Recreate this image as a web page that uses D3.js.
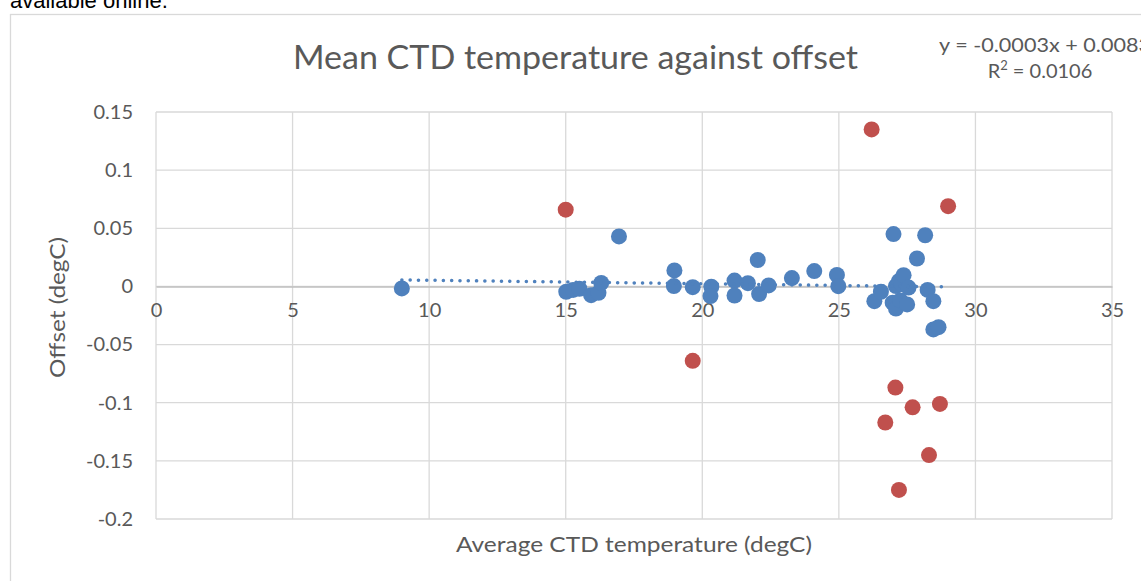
<!DOCTYPE html>
<meta charset="utf-8">
<style>
  body { margin: 0; background: #fff; }
  svg { display: block; }
  .tick text { font-family: Lato, "Open Sans", sans-serif; font-size: 20px; fill: #595959; }
  .grid line { stroke: #d9d9d9; stroke-width: 1.3; }
  .lbl { font-family: Lato, "Open Sans", sans-serif; fill: #595959; }
</style>
<svg width="1141" height="581"></svg>
<script src="https://d3js.org/d3.v7.min.js"></script>
<script>
// blue series: mean CTD temperature vs offset
var blueX = [9.0, 15.02, 15.27, 15.5, 15.93, 16.2, 16.3, 16.95, 18.98, 18.96, 19.65, 20.33, 20.3,
  21.18, 21.18, 21.67, 22.03, 22.08, 22.43, 23.28, 24.1, 24.93, 24.98,
  26.3, 26.54, 26.97, 27.0, 27.09, 27.09, 27.2, 27.25, 27.3, 27.37, 27.5, 27.55, 27.86, 28.16, 28.25, 28.46, 28.46, 28.65];
var blueY = [-0.0017, -0.0046, -0.003, -0.002, -0.0075, -0.0055, 0.003, 0.043, 0.0138, 0.0003, -0.0006, -0.0003, -0.0083,
  0.005, -0.0078, 0.0028, 0.0227, -0.0065, 0.0009, 0.0072, 0.0132, 0.0099, 0.0002,
  -0.0127, -0.0046, -0.014, 0.045, 0.0003, -0.019, 0.0046, -0.012, 0.002, 0.0097, -0.0155, -0.001, 0.024, 0.044, -0.003, -0.0127, -0.037, -0.035];
// red series: outliers
var redX = [15.0, 19.65, 26.2, 26.7, 27.07, 27.2, 27.7, 28.3, 28.7, 29.0];
var redY = [0.066, -0.064, 0.135, -0.117, -0.087, -0.175, -0.104, -0.145, -0.101, 0.069];

var xTicks = [0, 5, 10, 15, 20, 25, 30, 35];
var yTicks = [0.15, 0.1, 0.05, 0, -0.05, -0.1, -0.15, -0.2];
var trendSlope = -0.0003, trendIntercept = 0.0083, trendFrom = 9, trendTo = 29;

var svg = d3.select("svg");

// text above the chart, cut by the top edge
svg.append("text")
    .attr("x", 10).attr("y", 8)
    .style("font-family", "Liberation Sans, Arial, sans-serif")
    .style("font-size", "22px")
    .attr("fill", "#000")
    .text("available online.");

// chart border
svg.append("rect")
    .attr("x", 10.5).attr("y", 14.5)
    .attr("width", 1200).attr("height", 600)
    .attr("fill", "none").attr("stroke", "#d9d9d9").attr("stroke-width", 1.3);

var x = d3.scaleLinear().domain([0, 35]).range([156, 1112]);
var y = d3.scaleLinear().domain([-0.2, 0.15]).range([519, 112]);

// gridlines
svg.append("g").attr("class", "grid")
  .selectAll("line.h").data(yTicks).enter().append("line")
    .attr("x1", x(0)).attr("x2", x(35))
    .attr("y1", function(d) { return y(d); }).attr("y2", function(d) { return y(d); });
svg.append("g").attr("class", "grid")
  .selectAll("line.v").data(xTicks).enter().append("line")
    .attr("y1", y(0.15)).attr("y2", y(-0.2))
    .attr("x1", function(d) { return x(d); }).attr("x2", function(d) { return x(d); });

// y axis labels
var yAxis = d3.axisLeft(y).tickValues(yTicks).tickSize(0).tickPadding(23)
    .tickFormat(function(d) { return String(Math.round(d * 100) / 100); });
svg.append("g").attr("transform", "translate(" + x(0) + ",0)").call(yAxis)
    .call(function(g) { g.select(".domain").remove(); });

// x axis sits at y = 0
var xAxis = d3.axisBottom(x).tickValues(xTicks).tickSize(0).tickPadding(16);
svg.append("g").attr("transform", "translate(0," + y(0) + ")").call(xAxis)
    .call(function(g) {
      g.select(".domain").attr("stroke", "#bfbfbf").attr("stroke-width", 1.5);
    });

// points
var blue = blueX.map(function(v, i) { return [v, blueY[i]]; });
var red = redX.map(function(v, i) { return [v, redY[i]]; });

svg.append("g").selectAll("circle").data(blue).enter().append("circle")
    .attr("cx", function(d) { return x(d[0]); })
    .attr("cy", function(d) { return y(d[1]); })
    .attr("r", 8).attr("fill", "#4f81bd");
svg.append("g").selectAll("circle").data(red).enter().append("circle")
    .attr("cx", function(d) { return x(d[0]); })
    .attr("cy", function(d) { return y(d[1]); })
    .attr("r", 8).attr("fill", "#c0504d");

// dotted linear trendline
svg.append("line")
    .attr("x1", x(trendFrom)).attr("y1", y(trendSlope * trendFrom + trendIntercept))
    .attr("x2", x(trendTo)).attr("y2", y(trendSlope * trendTo + trendIntercept))
    .attr("stroke", "#4f81bd").attr("stroke-width", 3.5)
    .attr("stroke-linecap", "round").attr("stroke-dasharray", "0.1 8.2");

// titles
svg.append("text").attr("class", "lbl")
    .attr("x", 293).attr("y", 69)
    .attr("textLength", 565).attr("lengthAdjust", "spacingAndGlyphs")
    .style("font-size", "32px")
    .text("Mean CTD temperature against offset");

svg.append("text").attr("class", "lbl")
    .attr("x", 939).attr("y", 52)
    .attr("textLength", 212).attr("lengthAdjust", "spacingAndGlyphs")
    .style("font-size", "20px")
    .text("y = -0.0003x + 0.0083");
svg.append("text").attr("class", "lbl")
    .attr("x", 1040).attr("y", 78).attr("text-anchor", "middle")
    .style("font-size", "20px")
    .html("R<tspan dy='-8' style='font-size:13px'>2</tspan><tspan dy='8'> = 0.0106</tspan>");

svg.append("text").attr("class", "lbl")
    .attr("x", 456).attr("y", 552)
    .attr("textLength", 356).attr("lengthAdjust", "spacingAndGlyphs")
    .style("font-size", "22px")
    .text("Average CTD temperature (degC)");

svg.append("text").attr("class", "lbl")
    .attr("transform", "translate(65,378) rotate(-90)")
    .attr("textLength", 141).attr("lengthAdjust", "spacingAndGlyphs")
    .style("font-size", "22px")
    .text("Offset (degC)");
</script>
